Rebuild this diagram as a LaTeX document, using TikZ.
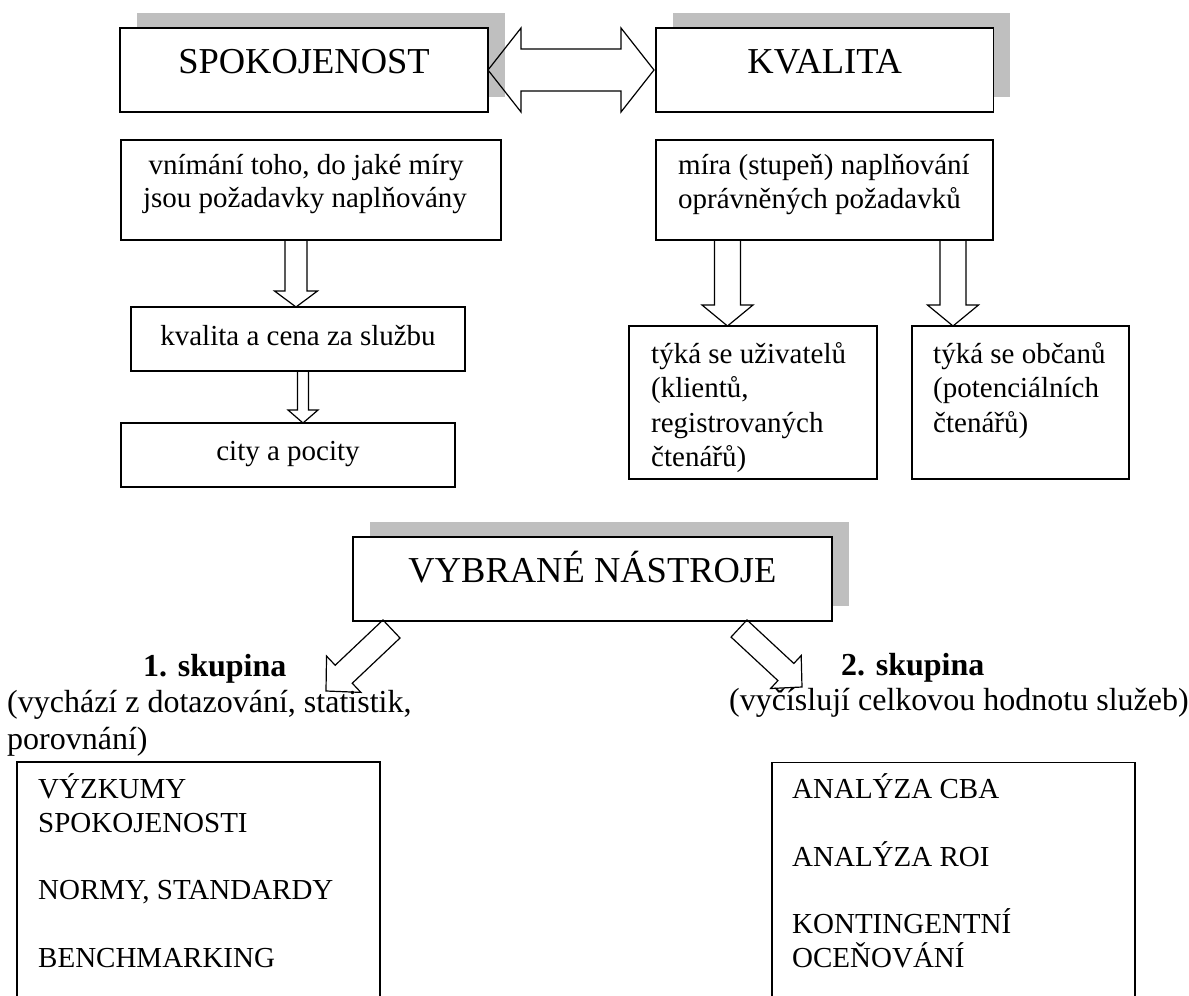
\documentclass[tikz,border=0pt]{standalone}
\usepackage{fontspec}
\setmainfont{Liberation Serif}
\usetikzlibrary{calc,shadows}
\definecolor{shad}{RGB}{191,191,191}
\tikzset{
  boxst/.style={draw, line width=1.5pt, fill=white, rectangle, inner sep=0pt, outer sep=0pt},
  shbox/.style={boxst, drop shadow={shadow xshift=16.5pt, shadow yshift=15.5pt, fill=shad, opacity=1}},
  bigtxt/.style={inner sep=0pt, anchor=base, font=\fontsize{36.5}{42}\selectfont},
  ctxt/.style={inner sep=0pt, anchor=base, font=\fontsize{29}{34}\selectfont},
  ltxt/.style={inner sep=0pt, anchor=base west, font=\fontsize{29}{34}\selectfont},
  gtxt/.style={inner sep=0pt, anchor=base west, font=\fontsize{32}{37}\selectfont},
  gbold/.style={gtxt, font=\fontsize{32}{37}\selectfont\bfseries},
  arr/.style={draw, line width=1.2pt, line join=miter},
  barrow/.style n args={3}{arr, to path={
    ($(\tikztostart)!#1!90:(\tikztotarget)$)
    -- ($(\tikztotarget)!#3!(\tikztostart)!#1!90:(\tikztotarget)$)
    -- ($(\tikztotarget)!#3!(\tikztostart)!#2!90:(\tikztotarget)$)
    -- (\tikztotarget)
    -- ($(\tikztotarget)!#3!(\tikztostart)!#2!-90:(\tikztotarget)$)
    -- ($(\tikztotarget)!#3!(\tikztostart)!#1!-90:(\tikztotarget)$)
    -- ($(\tikztostart)!#1!-90:(\tikztotarget)$)
    -- cycle}},
  dbarrow/.style n args={3}{arr, to path={
    (\tikztostart)
    -- ($(\tikztostart)!#3!(\tikztotarget)!#2!90:(\tikztotarget)$)
    -- ($(\tikztostart)!#3!(\tikztotarget)!#1!90:(\tikztotarget)$)
    -- ($(\tikztotarget)!#3!(\tikztostart)!#1!90:(\tikztotarget)$)
    -- ($(\tikztotarget)!#3!(\tikztostart)!#2!90:(\tikztotarget)$)
    -- (\tikztotarget)
    -- ($(\tikztotarget)!#3!(\tikztostart)!#2!-90:(\tikztotarget)$)
    -- ($(\tikztotarget)!#3!(\tikztostart)!#1!-90:(\tikztotarget)$)
    -- ($(\tikztostart)!#3!(\tikztotarget)!#1!-90:(\tikztotarget)$)
    -- ($(\tikztostart)!#3!(\tikztotarget)!#2!-90:(\tikztotarget)$)
    -- cycle}}
}
\begin{document}
\begin{tikzpicture}[x=1pt, y=-1pt]
\useasboundingbox (0,0) rectangle (1189,996);

% top boxes
\node[shbox, minimum width=368pt, minimum height=84pt] (spok) at (304,70) {};
\node[shbox, minimum width=337.5pt, minimum height=84pt] (kval) at (824.75,70) {};
\node[bigtxt] (spokt) at ($(spok.north)+(0,45)$) {SPOKOJENOST};
\node[bigtxt] (kvalt) at ($(kval.north)+(0,45)$) {KVALITA};

% second row
\node[boxst, minimum width=380pt, minimum height=100pt] (vnim) at (311,190) {};
\node[boxst, minimum width=337pt, minimum height=100pt] (mira) at (824.5,190) {};
\node[ctxt] (vnim1) at (306,174) {vnímání toho, do jaké míry};
\node[ctxt] (vnim2) at (305,207) {jsou požadavky naplňovány};
\node[ltxt] (mira1) at (678,174) {míra (stupeň) naplňování};
\node[ltxt] (mira2) at (678,208) {oprávněných požadavků};

% left chain
\node[boxst, minimum width=334pt, minimum height=64pt] (kvc) at (298,339) {};
\node[ctxt] (kvct) at (298,345) {kvalita a cena za službu};
\node[boxst, minimum width=334pt, minimum height=64pt] (city) at (288,455) {};
\node[ctxt] (cityt) at (288,460) {city a pocity};

% right pair
\node[boxst, minimum width=248pt, minimum height=153pt] (uziv) at (753,402.5) {};
\node[boxst, minimum width=217pt, minimum height=153pt] (obc) at (1020.5,402.5) {};
\node[ltxt] (uziv1) at (651,363) {týká se uživatelů};
\node[ltxt] (uziv2) at (651,397) {(klientů,};
\node[ltxt] (uziv3) at (651,432) {registrovaných};
\node[ltxt] (uziv4) at (651,466) {čtenářů)};
\node[ltxt] (obc1) at (933,363) {týká se občanů};
\node[ltxt] (obc2) at (933,397) {(potenciálních};
\node[ltxt] (obc3) at (933,432) {čtenářů)};

% tools box
\node[shbox, minimum width=479pt, minimum height=84pt] (vybr) at (592.5,579) {};
\node[bigtxt] (vybrt) at ($(vybr.north)+(0,45)$) {VYBRANÉ NÁSTROJE};

% groups
\node[gbold] (g1) at (143,676) {1. skupina};
\node[gtxt] (g1a) at (7,712) {(vychází z dotazování, statistik,};
\node[gtxt] (g1b) at (7,749) {porovnání)};
\node[gbold] (g2) at (841,675) {2. skupina};
\node[gtxt] (g2a) at (729,710) {(vyčíslují celkovou hodnotu služeb)};

% open lists
\coordinate (lb1) at (17,996);
\coordinate (lb2) at (17,762);
\coordinate (lb3) at (380,762);
\coordinate (lb4) at (380,996);
\draw[line width=1.5pt] (lb1) -- (lb2) -- (lb3) -- (lb4);
\coordinate (rb1) at (772,996);
\coordinate (rb2) at (772,762.5);
\coordinate (rb3) at (1135,762.5);
\coordinate (rb4) at (1135,996);
\draw[line width=1.5pt] (rb1) -- (rb2) -- (rb3) -- (rb4);

\node[ltxt] (l1) at (38,798) {VÝZKUMY};
\node[ltxt] (l2) at (38,832) {SPOKOJENOSTI};
\node[ltxt] (l3) at (38,899) {NORMY, STANDARDY};
\node[ltxt] (l4) at (38,967) {BENCHMARKING};
\node[ltxt] (r1) at (792,798) {ANALÝZA CBA};
\node[ltxt] (r2) at (792,866) {ANALÝZA ROI};
\node[ltxt] (r3) at (792,933) {KONTINGENTNÍ};
\node[ltxt] (r4) at (792,967) {OCEŇOVÁNÍ};

% arrows
\coordinate (dl) at (spok.east);
\coordinate (dr) at ($(kval.west)+(-2,0)$);
\draw[dbarrow={21pt}{42pt}{33pt}] (dl) to (dr);

\coordinate (a1s) at ($(vnim.south west)+(175,0)$);
\coordinate (a1e) at ($(kvc.north west)+(165,0)$);
\draw[barrow={11pt}{21.5pt}{16pt}] (a1s) to (a1e);
\coordinate (a2s) at ($(kvc.south west)+(172,0)$);
\coordinate (a2e) at ($(city.north west)+(182,0)$);
\draw[barrow={5.5pt}{15pt}{13pt}] (a2s) to (a2e);
\coordinate (a3s) at ($(mira.south west)+(71.5,0)$);
\coordinate (a3e) at ($(uziv.north west)+(98.5,0)$);
\draw[barrow={13pt}{25.5pt}{21pt}] (a3s) to (a3e);
\coordinate (a4s) at ($(mira.south west)+(297,0)$);
\coordinate (a4e) at ($(obc.north west)+(41,0)$);
\draw[barrow={13pt}{25.5pt}{21pt}] (a4s) to (a4e);

\coordinate (d1s) at ($(vybr.south west)+(38.5,8)$);
\coordinate (d1e) at (326,691);
\draw[barrow={12.4pt}{25pt}{24.4pt}] (d1s) to (d1e);
\coordinate (d2s) at ($(vybr.south west)+(386,7.5)$);
\coordinate (d2e) at (802,687);
\draw[barrow={11.7pt}{22.5pt}{22pt}] (d2s) to (d2e);
\end{tikzpicture}
\end{document}
